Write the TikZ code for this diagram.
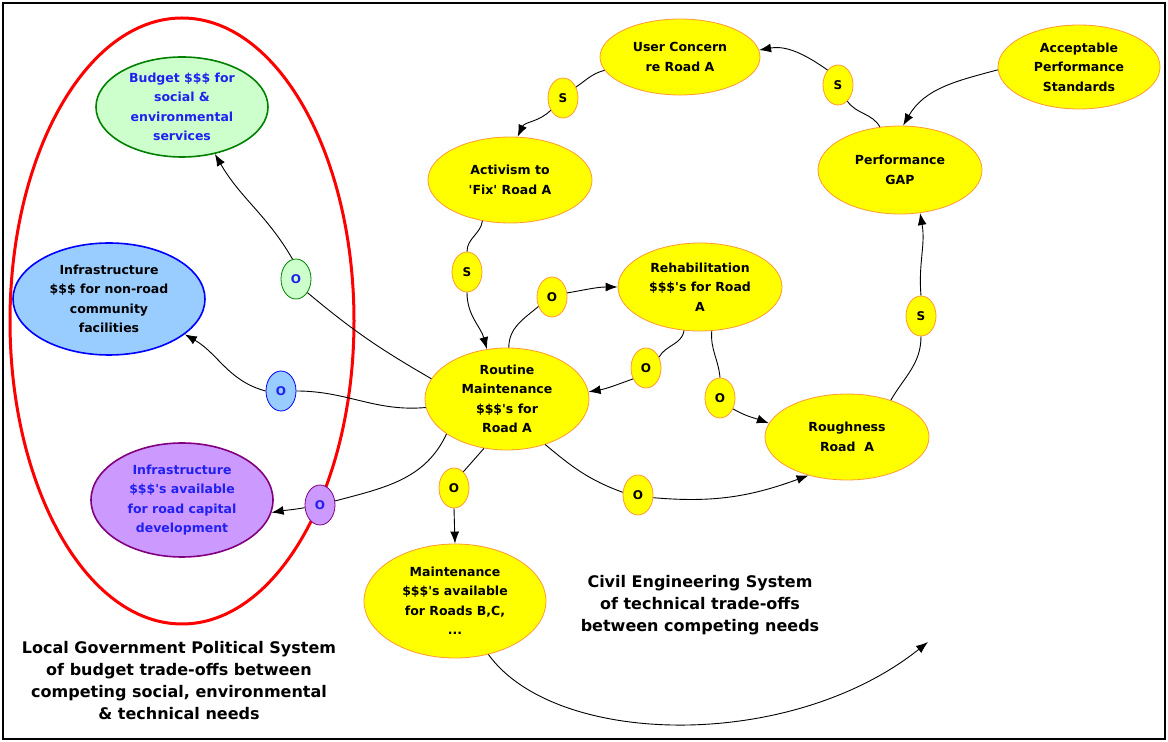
\documentclass[tikz,border=0pt]{standalone}
\usepackage{fontspec}
\setmainfont{DejaVu Sans}
\usetikzlibrary{shapes.geometric,arrows.meta}
\definecolor{ybord}{HTML}{FF9933}
\definecolor{gfill}{HTML}{CCFFCC}
\definecolor{gbord}{HTML}{008000}
\definecolor{bfill}{HTML}{99CCFF}
\definecolor{bbord}{HTML}{0000FF}
\definecolor{pfill}{HTML}{CC99FF}
\definecolor{pbord}{HTML}{800080}
\definecolor{btext}{HTML}{2020F0}
\definecolor{yfill}{HTML}{FFFF00}
\newcommand{\q}{\textquotesingle}
\tikzset{
  ntxt/.style={font=\bfseries\fontsize{12.5}{19.5}\selectfont, align=center, text=black},
  yel/.style={ellipse, draw=ybord, fill=yfill, line width=0.8pt, inner sep=0pt},
  sml/.style={ellipse, draw=ybord, fill=yfill, line width=0.8pt, inner sep=0pt,
    minimum width=30pt, minimum height=40pt, font=\bfseries\fontsize{12}{14}\selectfont},
  conn/.style={draw=black, line width=0.9pt},
  arr/.style={conn, -{Latex[length=12pt,width=9pt]}},
  bigtxt/.style={font=\bfseries\fontsize{16}{22}\selectfont, align=center},
}
\begin{document}
\begin{tikzpicture}[x=1pt,y=1pt]
\useasboundingbox (0,0) rectangle (1168,742);
\draw[line width=2pt] (3,3) rectangle (1165,739);

% political system ellipse
\node[ellipse, draw=red, line width=3pt, minimum width=344pt, minimum height=606pt] (pol) at (182,421) {};

% left nodes
\node[ellipse, draw=gbord, fill=gfill, line width=1.6pt, minimum width=172pt, minimum height=100pt,
  label={[ntxt, text=btext]center:{Budget \$\$\$ for\\social \&\\environmental\\services}}] (budget) at (182,635) {};
\node[ellipse, draw=bbord, fill=bfill, line width=1.6pt, minimum width=192pt, minimum height=112pt,
  label={[ntxt]center:{Infrastructure\\\$\$\$ for non-road\\community\\facilities}}] (infra) at (109,443) {};
\node[ellipse, draw=pbord, fill=pfill, line width=1.6pt, minimum width=182pt, minimum height=114pt,
  label={[ntxt, text=btext]center:{Infrastructure\\\$\$\$\q s available\\for road capital\\development}}] (infraav) at (182,242) {};

% yellow nodes
\node[yel, minimum width=160pt, minimum height=76pt,
  label={[ntxt]center:{User Concern\\re Road A}}] (uc) at (680,685) {};
\node[yel, minimum width=164pt, minimum height=86pt,
  label={[ntxt]center:{Activism to\\\q Fix\q{} Road A}}] (act) at (510,562) {};
\node[yel, minimum width=162pt, minimum height=84pt,
  label={[ntxt]center:{Acceptable\\Performance\\Standards}}] (aps) at (1079,675) {};
\node[yel, minimum width=164pt, minimum height=88pt,
  label={[ntxt]center:{Performance\\GAP}}] (gap) at (900,572) {};
\node[yel, minimum width=164pt, minimum height=88pt,
  label={[ntxt]center:{Rehabilitation\\\$\$\$\q s for Road\\A}}] (rehab) at (700,455) {};
\node[yel, minimum width=164pt, minimum height=102pt,
  label={[ntxt]center:{Routine\\Maintenance\\\$\$\$\q s for\\Road A}}] (rout) at (507,343) {};
\node[yel, minimum width=164pt, minimum height=86pt,
  label={[ntxt]center:{Roughness\\Road\ \ A}}] (rough) at (847,305) {};
\node[yel, minimum width=182pt, minimum height=114pt,
  label={[ntxt]center:{Maintenance\\\$\$\$\q s available\\for Roads B,C,\\...}}] (mavail) at (455,141) {};

% small link nodes
\node[sml] (s1) at (563,644) {S};
\node[sml] (s2) at (838,657) {S};
\node[sml] (s3) at (467,470) {S};
\node[sml] (o1) at (552,445) {O};
\node[sml] (o2) at (646,374) {O};
\node[sml] (o3) at (720,344) {O};
\node[sml] (s4) at (921,426) {S};
\node[sml] (o4) at (454,254) {O};
\node[sml] (o5) at (638,247) {O};
\node[sml, draw=gbord, fill=gfill, text=btext] (og) at (296,463) {O};
\node[sml, draw=bbord, fill=bfill, text=btext] (ob) at (281,351) {O};
\node[sml, draw=pbord, fill=pfill, text=btext] (op) at (320,237) {O};

\coordinate (endpt) at (928,100);

% connectors
\draw[conn] (uc.190) to[out=195,in=35] (s1.40);
\draw[arr] (s1.225) to[out=225,in=65] (act.80);

\draw[conn] (gap.115) to[out=120,in=-55] (s2.-60);
\draw[arr] (s2.125) to[out=145,in=10] (uc.5);

\draw[arr] (aps.182) to[out=195,in=60] (gap.86);

\draw[conn] (act.236) to[out=262,in=90] (s3.north);
\draw[arr] (s3.south) to[out=-90,in=105] (rout.112);

\draw[conn] (rout.88) to[out=90,in=220] (o1.215);
\draw[arr] (o1.15) to[out=10,in=180] (rehab.west);

\draw[conn] (rehab.250) to[out=-100,in=60] (o2.40);
\draw[arr] (o2.220) to[out=200,in=10] (rout.5);

\draw[conn] (rehab.285) to[out=-95,in=95] (o3.north);
\draw[arr] (o3.-40) to[out=-30,in=160] (rough.170);

\draw[conn] (rough.40) to[out=60,in=-90] (s4.south);
\draw[arr] (s4.north) to[out=95,in=-80] (gap.-65);

\draw[conn] (rout.-50) to[out=-40,in=160] (o5.170);
\draw[arr] (o5.-10) to[out=-5,in=200] (rough.225);

\draw[conn] (rout.245) -- (o4.60);
\draw[arr] (o4.south) -- (mavail.north);

\draw[conn] (rout.165) to[out=150,in=-40] (og.-50);
\draw[arr] (og.100) to[out=120,in=-60] (budget.-55);

\draw[conn] (rout.186) to[out=185,in=0] (ob.east);
\draw[arr] (ob.west) to[out=165,in=-30] (infra.-25);

\draw[conn] (rout.210) to[out=245,in=15] (op.15);
\draw[arr] (op.190) to[out=190,in=10] (infraav.-8);

\draw[arr] (mavail.-58) .. controls (555,-5) and (790,-10) .. (endpt);

% captions
\node[bigtxt] (civil) at (700,137) {Civil Engineering System\\of technical trade-offs\\between competing needs};
\node[bigtxt] (local) at (179,61) {Local Government Political System\\of budget trade-offs between\\competing social, environmental\\\& technical needs};
\end{tikzpicture}
\end{document}
